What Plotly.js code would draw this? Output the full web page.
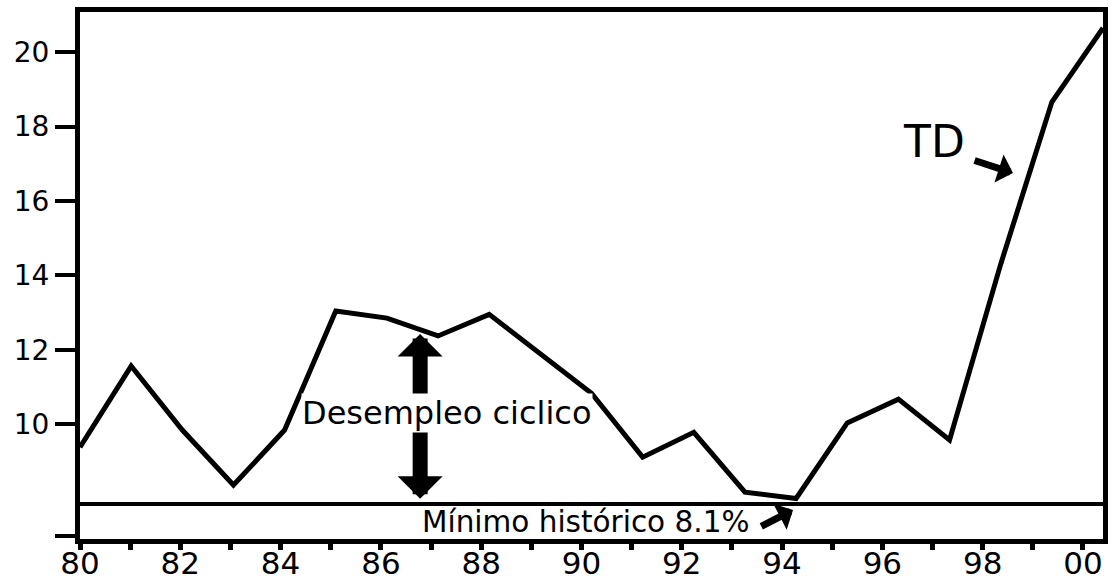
<!DOCTYPE html>
<html><head><meta charset="utf-8">
<script src="https://cdn.plot.ly/plotly-3.0.1.min.js"></script>
<style>html,body{margin:0;padding:0;background:#fff}#chart{width:1111px;height:582px}</style>
</head><body><div id="chart"></div>
<script>
// Data
const years = [1980,1981,1982,1983,1984,1985,1986,1987,1988,1989,1990,1991,1992,1993,1994,1995,1996,1997,1998,1999,2000];
const rate  = [9.38,11.56,9.84,8.36,9.84,13.04,12.85,12.37,12.95,11.9,10.83,9.11,9.78,8.17,8.0,10.03,10.67,9.57,14.3,18.66,20.65];
const xTickVals = [1980,1981,1982,1983,1984,1985,1986,1987,1988,1989,1990,1991,1992,1993,1994,1995,1996,1997,1998,1999,2000];
const xTickText = ['80','','82','','84','','86','','88','','90','','92','','94','','96','','98','','00'];
const yTickVals = [7,10,12,14,16,18,20];
const yTickText = ['','10','12','14','16','18','20'];
const minLevel = 7.85;
const minLabel = 'Mínimo histórico 8.1%';
const cycLabel = 'Desempleo ciclico';
const tdLabel = 'TD';

const FONT = 'DejaVu Sans, Century Gothic, sans-serif';

const trace = {
  x: years, y: rate, xaxis: 'x2', yaxis: 'y',
  type: 'scatter', mode: 'lines',
  line: {color: '#000', width: 5, shape: 'linear'},
  hoverinfo: 'skip'
};
// invisible carrier so the tick axis (x) is drawn
const tickCarrier = {
  x: years, y: rate, xaxis: 'x', yaxis: 'y',
  type: 'scatter', mode: 'none', hoverinfo: 'skip', showlegend: false
};

const layout = {
  width: 1111, height: 582,
  margin: {l: 80, r: 8, t: 12, b: 43, pad: 0},
  paper_bgcolor: '#fff', plot_bgcolor: '#fff',
  showlegend: false,
  font: {family: FONT, color: '#000'},
  xaxis: {
    range: [1980, 2000.4], domain: [0, 1],
    showline: true, linewidth: 5, linecolor: '#000', mirror: true,
    ticks: 'outside', ticklen: 6, tickwidth: 5, tickcolor: '#000',
    tickmode: 'array', tickvals: xTickVals, ticktext: xTickText,
    tickfont: {family: FONT, size: 31, color: '#000'},
    ticklabelstandoff: -13,
    showgrid: false, zeroline: false, fixedrange: true
  },
  xaxis2: {
    range: [1980, 2000], overlaying: 'x', visible: false, fixedrange: true
  },
  yaxis: {
    range: [6.91, 21.08], domain: [0, 1],
    showline: true, linewidth: 5, linecolor: '#000', mirror: true,
    ticks: 'outside', ticklen: 20, tickwidth: 4, tickcolor: '#000',
    tickmode: 'array', tickvals: yTickVals, ticktext: yTickText,
    tickfont: {family: FONT, size: 28, color: '#000'},
    showgrid: false, zeroline: false, fixedrange: true
  },
  shapes: [
    {type: 'line', xref: 'paper', x0: 0, x1: 1, yref: 'y', y0: minLevel, y1: minLevel,
     line: {color: '#000', width: 4}}
  ],
  annotations: [
    // double arrow (cyclical unemployment)
    {xref: 'x2', yref: 'y', x: 1986.65, y: 12.42, axref: 'x2', ayref: 'y', ax: 1986.65, ay: 7.95,
     text: '', showarrow: true, arrowside: 'end+start', arrowhead: 1, startarrowhead: 1,
     arrowwidth: 15, arrowsize: 0.5, startarrowsize: 0.5, arrowcolor: '#000', standoff: 0, startstandoff: 0},
    {xref: 'x2', yref: 'y', x: 1987.17, y: 10.3, text: cycLabel, showarrow: false,
     bgcolor: '#fff', borderpad: 0, font: {family: FONT, size: 32, color: '#000'}},
    // minimum label + arrow
    {xref: 'x2', yref: 'y', x: 1989.89, y: 7.37, text: minLabel, showarrow: false,
     font: {family: FONT, size: 29.5, color: '#000'}},
    {xref: 'x2', yref: 'y', x: 1993.94, y: 7.69, axref: 'x2', ayref: 'y', ax: 1993.29, ay: 7.23,
     text: '', showarrow: true, arrowhead: 1, arrowwidth: 7, arrowsize: 0.7, arrowcolor: '#000', standoff: 0},
    // TD label + arrow
    {xref: 'x2', yref: 'y', x: 1996.7, y: 17.61, text: tdLabel, showarrow: false,
     font: {family: FONT, size: 44, color: '#000'}},
    {xref: 'x2', yref: 'y', x: 1998.24, y: 16.75, axref: 'x2', ayref: 'y', ax: 1997.46, ay: 17.10,
     text: '', showarrow: true, arrowhead: 1, arrowwidth: 7, arrowsize: 0.7, arrowcolor: '#000', standoff: 0}
  ]
};

Plotly.newPlot('chart', [tickCarrier, trace], layout, {displayModeBar: false, staticPlot: true});
</script>
</body></html>
